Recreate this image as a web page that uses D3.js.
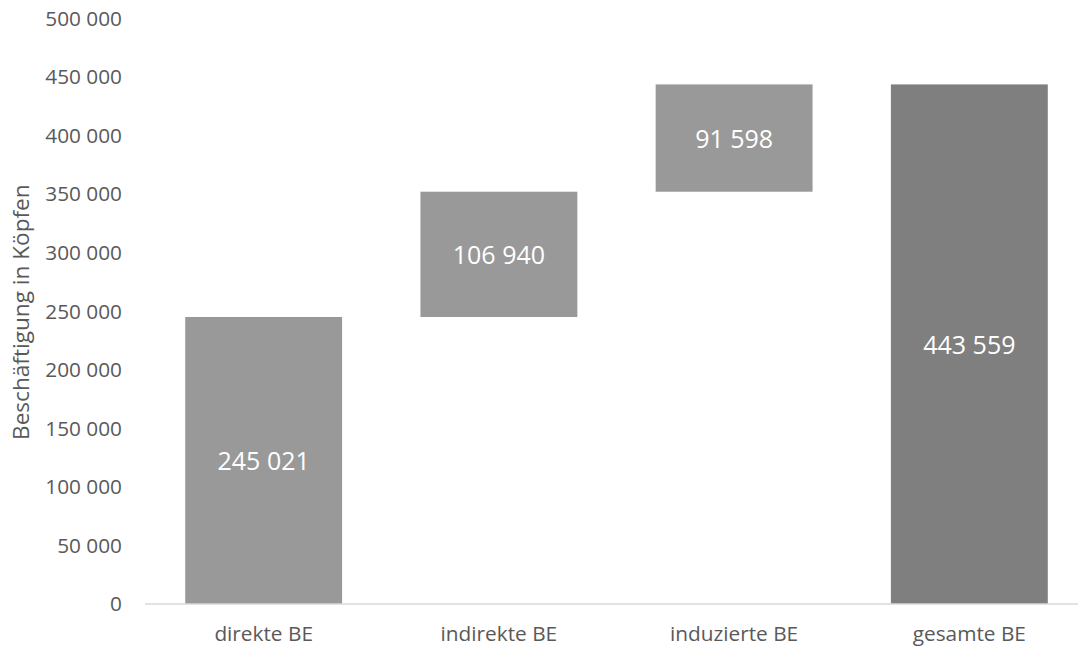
<!DOCTYPE html>
<html>
<head>
<meta charset="utf-8">
<script src="https://cdn.jsdelivr.net/npm/d3@7"></script>
<style>
  html, body { margin: 0; padding: 0; background: #fff; }
  svg { display: block; font-family: "Open Sans", "DejaVu Sans", sans-serif; }
</style>
</head>
<body>
<svg id="chart"></svg>
<script>
// data
const categories = ["direkte BE", "indirekte BE", "induzierte BE", "gesamte BE"];
const values = [245021, 106940, 91598, 443559];
const isTotal = [false, false, false, true];
const yTicks = [0, 50000, 100000, 150000, 200000, 250000, 300000, 350000, 400000, 450000, 500000];
const yTitle = "Beschäftigung in Köpfen";

const width = 1078;
const height = 648;

const COLORS = {
  step: "#999999",
  total: "#7f7f7f",
  axis: "#d9d9d9",
  text: "#595959",
  label: "#ffffff",
};

const de = d3.formatLocale({ decimal: ",", thousands: " ", grouping: [3], currency: ["", " €"] });
const fmt = de.format(",d");

// waterfall bases: running sum, totals start at 0
let running = 0;
const bars = categories.map((c, i) => {
  let y0, y1;
  if (isTotal[i]) {
    y0 = 0;
    y1 = values[i];
  } else {
    y0 = running;
    y1 = running + values[i];
    running = y1;
  }
  return { cat: c, value: values[i], y0, y1, total: isTotal[i] };
});

const svg = d3.select("#chart").attr("width", width).attr("height", height);

const x = d3.scaleBand()
  .domain(categories)
  .range([146, 1087])
  .paddingInner(0.333)
  .paddingOuter(0.1667);

const y = d3.scaleLinear().domain([0, 500000]).range([604, 18.3]);

// y tick labels (no gridlines in the original)
svg.append("g")
  .selectAll("text")
  .data(yTicks)
  .join("text")
  .attr("x", 122)
  .attr("y", (d) => y(d))
  .attr("dy", "0.36em")
  .attr("text-anchor", "end")
  .attr("font-size", 20.8)
  .attr("fill", COLORS.text)
  .text((d) => fmt(d));

// y title
svg.append("text")
  .attr("transform", `translate(29,${y(250000) + 1}) rotate(-90)`)
  .attr("text-anchor", "middle")
  .attr("font-size", 22.6)
  .attr("fill", COLORS.text)
  .text(yTitle);

// bars
svg.append("g")
  .selectAll("rect")
  .data(bars)
  .join("rect")
  .attr("x", (d) => x(d.cat))
  .attr("width", x.bandwidth())
  .attr("y", (d) => y(d.y1))
  .attr("height", (d) => y(d.y0) - y(d.y1))
  .attr("fill", (d) => (d.total ? COLORS.total : COLORS.step));

// baseline
svg.append("line")
  .attr("x1", 145)
  .attr("x2", width)
  .attr("y1", y(0))
  .attr("y2", y(0))
  .attr("stroke", COLORS.axis)
  .attr("stroke-width", 1.5);

// value labels inside bars
svg.append("g")
  .selectAll("text")
  .data(bars)
  .join("text")
  .attr("x", (d) => x(d.cat) + x.bandwidth() / 2)
  .attr("y", (d) => (y(d.y0) + y(d.y1)) / 2 + 1)
  .attr("dy", "0.36em")
  .attr("text-anchor", "middle")
  .attr("font-size", 25)
  .attr("fill", COLORS.label)
  .text((d) => fmt(d.value));

// category labels
svg.append("g")
  .selectAll("text")
  .data(categories)
  .join("text")
  .attr("x", (d) => x(d) + x.bandwidth() / 2)
  .attr("y", 641)
  .attr("text-anchor", "middle")
  .attr("font-size", 20.8)
  .attr("fill", COLORS.text)
  .text((d) => d);
</script>
</body>
</html>
